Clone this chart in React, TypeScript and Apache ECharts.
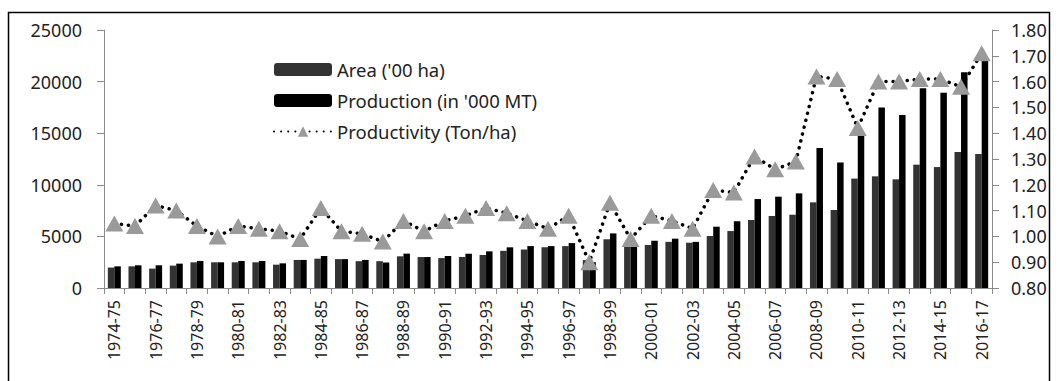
import React, { useEffect, useRef } from "react";
import * as echarts from "echarts";

const categories: string[] = [
  "1974-75","1975-76","1976-77","1977-78","1978-79","1979-80","1980-81","1981-82","1982-83","1983-84",
  "1984-85","1985-86","1986-87","1987-88","1988-89","1989-90","1990-91","1991-92","1992-93","1993-94",
  "1994-95","1995-96","1996-97","1997-98","1998-99","1999-00","2000-01","2001-02","2002-03","2003-04",
  "2004-05","2005-06","2006-07","2007-08","2008-09","2009-10","2010-11","2011-12","2012-13","2013-14",
  "2014-15","2015-16","2016-17",
];

const area: number[] = [
  1980, 2100, 1880, 2170, 2490, 2490, 2490, 2490, 2260, 2720,
  2840, 2800, 2600, 2600, 3070, 3000, 2900, 3010, 3200, 3600,
  3730, 3950, 4060, 2700, 4720, 4000, 4170, 4470, 4390, 5040,
  5520, 6590, 6980, 7100, 8300, 7560, 10600, 10820, 10530, 11950,
  11720, 13180, 12980,
];

const production: number[] = [
  2100, 2200, 2200, 2360, 2620, 2490, 2620, 2620, 2390, 2720,
  3100, 2800, 2720, 2470, 3330, 3000, 3100, 3320, 3550, 3940,
  4060, 4060, 4350, 2500, 5290, 4000, 4580, 4780, 4470, 5940,
  6470, 8620, 8850, 9170, 13570, 12160, 14800, 17500, 16760, 19350,
  18920, 20900, 22300,
];

const productivity: number[] = [
  1.05, 1.04, 1.12, 1.10, 1.04, 1.00, 1.04, 1.03, 1.02, 0.99,
  1.11, 1.02, 1.01, 0.98, 1.06, 1.02, 1.06, 1.08, 1.11, 1.09,
  1.06, 1.03, 1.08, 0.90, 1.13, 0.99, 1.08, 1.06, 1.03, 1.18,
  1.17, 1.31, 1.26, 1.29, 1.62, 1.61, 1.42, 1.60, 1.60, 1.61,
  1.61, 1.58, 1.71,
];

const seriesNames = ["Area ('00 ha)", "Production (in '000 MT)", "Productivity (Ton/ha)"];

const FONT = "Noto Sans";

export default function App() {
  const ref = useRef<HTMLDivElement>(null);
  useEffect(() => {
    if (!ref.current) return;
    const chart = echarts.init(ref.current, undefined, { renderer: "svg" });
    chart.setOption({
      animation: false,
      backgroundColor: "#ffffff",
      textStyle: { fontFamily: FONT },
      grid: { left: 104, right: 66, top: 30, bottom: 93, containLabel: false },
      legend: {
        orient: "vertical",
        left: 268,
        top: 55,
        itemWidth: 58,
        itemHeight: 13,
        itemGap: 12,
        textStyle: { fontFamily: FONT, fontSize: 18.5, color: "#222" },
        data: seriesNames,
      },
      graphic: [
        {
          type: "rect",
          shape: { x: 8.5, y: 12.5, width: 1041, height: 420 },
          style: { fill: "none", stroke: "#000", lineWidth: 1.5 },
          silent: true,
          z: 100,
        },
      ],
      xAxis: {
        type: "category",
        data: categories,
        boundaryGap: true,
        axisLine: { show: true, lineStyle: { color: "#8a8a8a", width: 1 } },
        axisTick: { show: true, interval: 0, length: 6, lineStyle: { color: "#8a8a8a" } },
        axisLabel: {
          interval: 1,
          rotate: 90,
          margin: 12,
          fontSize: 16,
          fontFamily: FONT,
          color: "#222",
        },
      },
      yAxis: [
        {
          type: "value",
          min: 0,
          max: 25000,
          interval: 5000,
          splitLine: { show: false },
          axisLine: { show: true, lineStyle: { color: "#8a8a8a" } },
          axisTick: { show: true, length: 7, lineStyle: { color: "#8a8a8a" } },
          axisLabel: {
            fontSize: 18,
            fontFamily: FONT,
            color: "#222",
            margin: 22,
            formatter: (v: number) => String(v),
          },
        },
        {
          type: "value",
          min: 0.8,
          max: 1.8,
          interval: 0.1,
          position: "right",
          splitLine: { show: false },
          axisLine: { show: true, lineStyle: { color: "#8a8a8a" } },
          axisTick: { show: true, length: 7, lineStyle: { color: "#8a8a8a" } },
          axisLabel: {
            fontSize: 18,
            fontFamily: FONT,
            color: "#222",
            margin: 19,
            formatter: (v: number) => v.toFixed(2),
          },
        },
      ],
      series: [
        {
          name: seriesNames[0],
          type: "bar",
          yAxisIndex: 0,
          data: area,
          barWidth: 6.5,
          barGap: "0%",
          itemStyle: { color: "#333333" },
        },
        {
          name: seriesNames[1],
          type: "bar",
          yAxisIndex: 0,
          data: production,
          barWidth: 6.5,
          barGap: "0%",
          itemStyle: { color: "#000000" },
        },
        {
          name: seriesNames[2],
          type: "line",
          yAxisIndex: 1,
          data: productivity,
          symbol: "triangle",
          symbolSize: [18, 16],
          showAllSymbol: true,
          itemStyle: { color: "#9a9a9a" },
          lineStyle: { color: "#000", width: 3.5, type: [0.1, 7], cap: "round" },
          z: 5,
        },
      ],
    });
    return () => chart.dispose();
  }, []);
  return (
    <div
      ref={ref}
      style={{ position: "fixed", left: 0, top: 0, width: 1058, height: 381, background: "#fff" }}
    />
  );
}
